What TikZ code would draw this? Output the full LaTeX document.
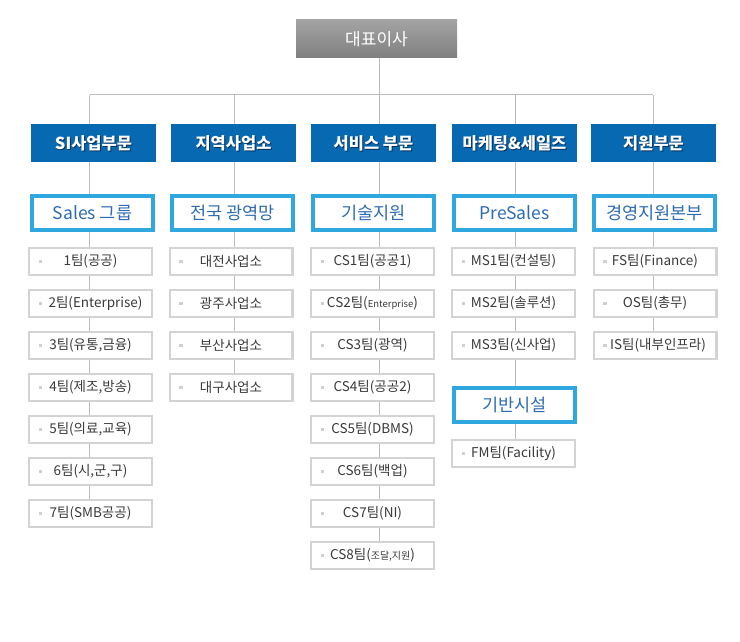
\documentclass[tikz,border=0pt]{standalone}
\usepackage{fontspec}
\setmainfont{Noto Sans CJK KR}
\usetikzlibrary{calc}
\definecolor{hdrblue}{HTML}{0869B3}
\definecolor{hdrshadow}{HTML}{06305A}
\definecolor{grpborder}{HTML}{2EA8DF}
\definecolor{grptext}{HTML}{2E6CB2}
\definecolor{linegray}{HTML}{BDBDBD}
\definecolor{boxgray}{HTML}{D3D3D3}
\definecolor{txtgray}{HTML}{3A3A3A}
\definecolor{bulletgray}{HTML}{CFCFCF}
\pgfdeclarelayer{background}
\pgfsetlayers{background,main}
\begin{document}
\begin{tikzpicture}[x=1pt,y=-1pt,
  ceobox/.style={minimum width=161pt,minimum height=38pt,inner sep=0pt,
    top color=black!36,bottom color=black!50,text=white,
    font=\fontsize{17}{20}\selectfont},
  hdrbox/.style={fill=hdrblue,minimum width=125pt,minimum height=38pt,inner sep=0pt},
  hdrtext/.style={text=white,inner sep=0pt,font=\bfseries\fontsize{16.5}{19}\selectfont},
  hdrshade/.style={text=hdrshadow,inner sep=0pt,font=\bfseries\fontsize{16.5}{19}\selectfont},
  grpbox/.style={draw=grpborder,line width=4pt,fill=white,minimum width=121pt,minimum height=34pt,
    inner sep=0pt,text=grptext,font=\fontsize{17.5}{20}\selectfont},
  teambox/.style={draw=boxgray,line width=2.2pt,fill=white,minimum width=122.8pt,minimum height=26.8pt,
    inner sep=0pt,text=txtgray,font=\fontsize{13.5}{16}\selectfont,
    path picture={\fill[bulletgray] ($(path picture bounding box.west)+(9.5,-1.75)$) rectangle ++(3.5,3.5);}},
  conn/.style={draw=linegray,line width=1pt}]
\useasboundingbox (0,0) rectangle (740,642);

% CEO
\node[ceobox] (ceo) at (376.5,39) {대표이사};

% junctions
\coordinate (j1) at (89.5,95);
\coordinate (j2) at (234,95);
\coordinate (j3) at (379,95);
\coordinate (j4) at (515,95);
\coordinate (j5) at (653,95);

% headers
\node[hdrbox] (h1) at (93.5,143) {};
\node[hdrbox] (h2) at (233.5,143) {};
\node[hdrbox] (h3) at (373.5,143) {};
\node[hdrbox] (h4) at (514.5,143) {};
\node[hdrbox] (h5) at (653.5,143) {};
\node[hdrshade] (h1s) at ($(h1)+(1,1.5)$) {SI사업부문};
\node[hdrshade] (h2s) at ($(h2)+(1,1.5)$) {지역사업소};
\node[hdrshade] (h3s) at ($(h3)+(1,1.5)$) {서비스 부문};
\node[hdrshade] (h4s) at ($(h4)+(1,1.5)$) {마케팅\&세일즈};
\node[hdrshade] (h5s) at ($(h5)+(1,1.5)$) {지원부문};
\node[hdrtext] (h1t) at (h1) {SI사업부문};
\node[hdrtext] (h2t) at (h2) {지역사업소};
\node[hdrtext] (h3t) at (h3) {서비스 부문};
\node[hdrtext] (h4t) at (h4) {마케팅\&세일즈};
\node[hdrtext] (h5t) at (h5) {지원부문};

% groups
\node[grpbox] (g1) at (92.5,213) {Sales 그룹};
\node[grpbox] (g2) at (232.5,213) {전국 광역망};
\node[grpbox] (g3) at (373.5,213) {기술지원};
\node[grpbox] (g4) at (514.5,213) {PreSales};
\node[grpbox] (g5) at (654.5,213) {경영지원본부};
\node[grpbox] (g6) at (514.5,405) {기반시설};

% column 1
\node[teambox] (a1) at (90.5,261.5) {1팀(공공)};
\node[teambox] (a2) at (90.5,303.5) {\hspace{10pt}2팀(Enterprise)};
\node[teambox] (a3) at (90.5,345.5) {3팀(유통,금융)};
\node[teambox] (a4) at (90.5,387.5) {4팀(제조,방송)};
\node[teambox] (a5) at (90.5,429.5) {5팀(의료,교육)};
\node[teambox] (a6) at (90.5,471.5) {6팀(시,군,구)};
\node[teambox] (a7) at (90.5,513.5) {7팀(SMB공공)};

% column 2
\node[teambox] (b1) at (231,261.5) {대전사업소};
\node[teambox] (b2) at (231,303.5) {광주사업소};
\node[teambox] (b3) at (231,345.5) {부산사업소};
\node[teambox] (b4) at (231,387.5) {대구사업소};

% column 3
\node[teambox] (c1) at (372.5,261.5) {CS1팀(공공1)};
\node[teambox] (c2) at (372.5,303.5) {CS2팀({\fontsize{9.5}{10}\selectfont Enterprise})};
\node[teambox] (c3) at (372.5,345.5) {CS3팀(광역)};
\node[teambox] (c4) at (372.5,387.5) {CS4팀(공공2)};
\node[teambox] (c5) at (372.5,429.5) {CS5팀(DBMS)};
\node[teambox] (c6) at (372.5,471.5) {CS6팀(백업)};
\node[teambox] (c7) at (372.5,513.5) {CS7팀(NI)};
\node[teambox] (c8) at (372.5,555.5) {CS8팀({\fontsize{10}{10}\selectfont 조달,지원})};

% column 4
\node[teambox] (d1) at (513.5,261.5) {MS1팀(컨설팅)};
\node[teambox] (d2) at (513.5,303.5) {MS2팀(솔루션)};
\node[teambox] (d3) at (513.5,345.5) {MS3팀(신사업)};
\node[teambox] (d4) at (513.5,453.5) {FM팀(Facility)};

% column 5
\node[teambox] (e1) at (655,261.5) {FS팀(Finance)};
\node[teambox] (e2) at (655,303.5) {OS팀(총무)};
\node[teambox] (e3) at (655,345.5) {\hspace{6pt}IS팀(내부인프라)};

\begin{pgfonlayer}{background}
\fill[white] (0,0) rectangle (740,642);
\draw[conn] (ceo.south -| j3) -- (j3);
\draw[conn] (j1) -- (j5);
\draw[conn] (j1) -- (h1.north -| j1);
\draw[conn] (j2) -- (h2.north -| j2);
\draw[conn] (j3) -- (h3.north -| j3);
\draw[conn] (j4) -- (h4.north -| j4);
\draw[conn] (j5) -- (h5.north -| j5);
\draw[conn] (h1.south -| j1) -- (g1.north -| j1);
\draw[conn] (h2.south -| j2) -- (g2.north -| j2);
\draw[conn] (h3.south -| j3) -- (g3.north -| j3);
\draw[conn] (h4.south -| j4) -- (g4.north -| j4);
\draw[conn] (h5.south -| j5) -- (g5.north -| j5);
% col 1
\draw[conn] (g1.south -| j1) -- (a1.north -| j1);
\draw[conn] (a1.south -| j1) -- (a2.north -| j1);
\draw[conn] (a2.south -| j1) -- (a3.north -| j1);
\draw[conn] (a3.south -| j1) -- (a4.north -| j1);
\draw[conn] (a4.south -| j1) -- (a5.north -| j1);
\draw[conn] (a5.south -| j1) -- (a6.north -| j1);
\draw[conn] (a6.south -| j1) -- (a7.north -| j1);
% col 2
\draw[conn] (g2.south -| j2) -- (b1.north -| j2);
\draw[conn] (b1.south -| j2) -- (b2.north -| j2);
\draw[conn] (b2.south -| j2) -- (b3.north -| j2);
\draw[conn] (b3.south -| j2) -- (b4.north -| j2);
% col 3
\draw[conn] (g3.south -| j3) -- (c1.north -| j3);
\draw[conn] (c1.south -| j3) -- (c2.north -| j3);
\draw[conn] (c2.south -| j3) -- (c3.north -| j3);
\draw[conn] (c3.south -| j3) -- (c4.north -| j3);
\draw[conn] (c4.south -| j3) -- (c5.north -| j3);
\draw[conn] (c5.south -| j3) -- (c6.north -| j3);
\draw[conn] (c6.south -| j3) -- (c7.north -| j3);
\draw[conn] (c7.south -| j3) -- (c8.north -| j3);
% col 4
\draw[conn] (g4.south -| j4) -- (d1.north -| j4);
\draw[conn] (d1.south -| j4) -- (d2.north -| j4);
\draw[conn] (d2.south -| j4) -- (d3.north -| j4);
\draw[conn] (d3.south -| j4) -- (g6.north -| j4);
\draw[conn] (g6.south -| j4) -- (d4.north -| j4);
% col 5
\draw[conn] (g5.south -| j5) -- (e1.north -| j5);
\draw[conn] (e1.south -| j5) -- (e2.north -| j5);
\draw[conn] (e2.south -| j5) -- (e3.north -| j5);
\end{pgfonlayer}
\end{tikzpicture}
\end{document}
